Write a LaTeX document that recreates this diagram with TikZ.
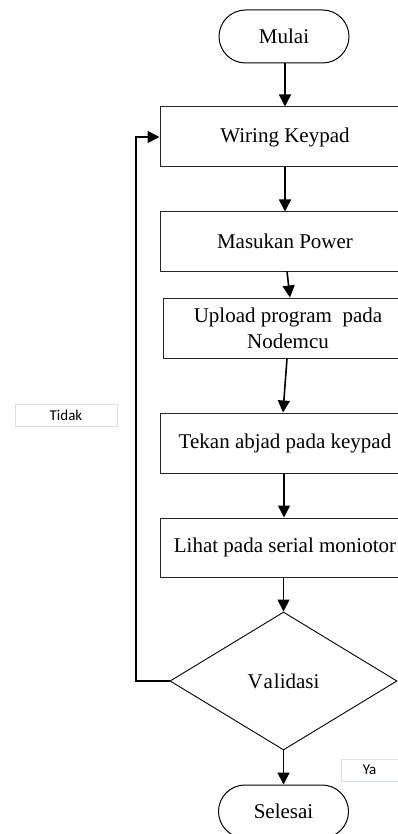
\documentclass[tikz,border=0pt]{standalone}
\usepackage{fontspec}
\setmainfont{Liberation Serif}
\newfontfamily\labelfont{Carlito}
\usetikzlibrary{arrows.meta,shapes.geometric,shapes.misc}
\definecolor{labelframe}{RGB}{214,224,238}
\tikzset{
  stepbox/.style={draw=black!85, line width=1pt, rectangle, minimum width=250pt,
    minimum height=60pt, inner sep=2pt, align=center,
    font=\fontsize{21}{26}\selectfont},
  terminal/.style={draw=black, line width=1pt, rounded rectangle, minimum width=130pt,
    minimum height=53pt, inner sep=0pt, font=\fontsize{21}{26}\selectfont},
  decision/.style={draw=black, line width=0.9pt, diamond, minimum width=227pt,
    minimum height=138pt, inner sep=0pt, font=\fontsize{21}{26}\selectfont},
  flow/.style={line width=1.6pt, -{Triangle[length=12pt,width=12pt]}},
  tag/.style={draw=labelframe, line width=0.8pt, rectangle, inner sep=0pt,
    font=\labelfont\fontsize{15}{18}\selectfont}
}
\begin{document}
\begin{tikzpicture}[x=1pt,y=-1pt]
  \path[use as bounding box, clip] (0,0) rectangle (398,834);
  \fill[white] (0,0) rectangle (398,834);

  % process steps
  \node[terminal] (mulai) at (284,36.5) {Mulai};
  \node[stepbox] (wiring) at (285,137) {Wiring Keypad};
  \node[stepbox, minimum height=59pt] (power) at (285,241.5) {Masukan Power};
  \node[stepbox] (upload) at (288,328) {Upload program~ pada\\Nodemcu};
  \node[stepbox] (tekan) at (285,443) {Tekan abjad pada keypad};
  \node[stepbox, minimum height=59pt] (lihat) at (285,547.5) {Lihat pada serial moniotor};
  \node[decision] (valid) at (283.5,681) {V\kern1pt a\kern1pt lidasi};
  \node[terminal] (selesai) at (283.5,811.5) {Selesai};

  % branch labels
  \node[tag, minimum width=102pt, minimum height=22pt] (tidak) at (66,415) {Tidak};
  \node[tag, minimum width=57pt, minimum height=22pt] (ya) at (369.5,770) {Ya};

  % connectors
  \coordinate (loopx) at (136,0);
  \draw[flow] (mulai.south -| 285,0) -- (wiring.north -| 285,0);
  \draw[flow] (wiring.south -| 285,0) -- (power.north -| 285,0);
  \draw[flow] (power.south -| 287,0) -- (upload.north -| 290,0);
  \draw[flow] (upload.south -| 287,0) -- (tekan.north -| 283,0);
  \draw[flow] (tekan.south -| 284,0) -- (lihat.north -| 284,0);
  \draw[flow] (lihat.south -| 283.5,0) -- (valid.north);
  \draw[flow] (valid.south) -- (selesai.north);
  \draw[flow] (valid.west) -- (valid.west -| loopx) -- (wiring.west -| loopx) -- (wiring.west);
\end{tikzpicture}
\end{document}
